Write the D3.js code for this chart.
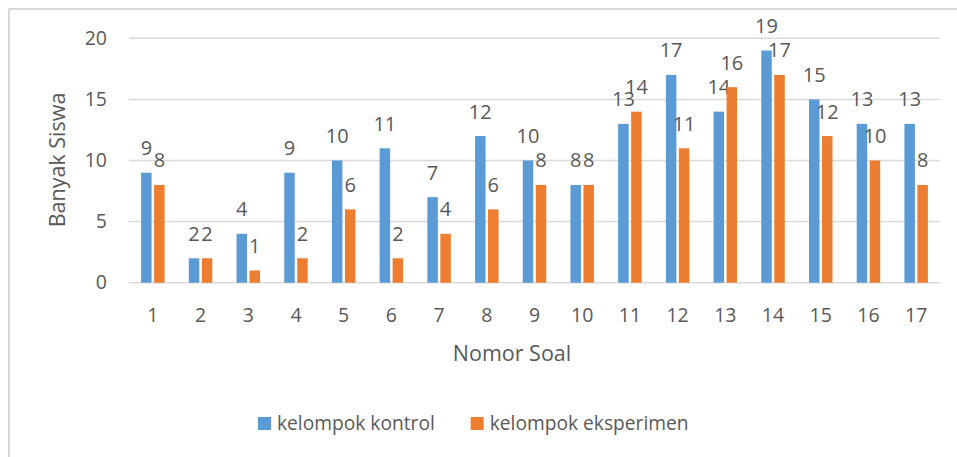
<!DOCTYPE html>
<html><head><meta charset="utf-8">
<script src="https://cdn.jsdelivr.net/npm/d3@7"></script>
<style>body{margin:0;background:#fff}svg{display:block}text{font-family:"Open Sans",sans-serif;fill:#595959}</style>
</head><body><svg id="c" width="957" height="457"></svg>
<script>
const categories = ["1","2","3","4","5","6","7","8","9","10","11","12","13","14","15","16","17"];
const kontrol = [9,2,4,9,10,11,7,12,10,8,13,17,14,19,15,13,13];
const eksperimen = [8,2,1,2,6,2,4,6,8,8,14,11,16,17,12,10,8];
const seriesNames = ["kelompok kontrol","kelompok eksperimen"];
const colors = ["#5B9BD5","#ED7D31"];
const yTicks = [0,5,10,15,20];

(function(){
const svg = d3.select("#c");
const F = "Open Sans";
// outer border
svg.append("line").attr("x1",9).attr("x2",9).attr("y1",8).attr("y2",457).attr("stroke","#D9D9D9").attr("stroke-width",2);
svg.append("line").attr("x1",8).attr("x2",957).attr("y1",9).attr("y2",9).attr("stroke","#D9D9D9").attr("stroke-width",2);

const pL=129, pR=940, pT=38.3, pB=282.7;
const x = d3.scaleBand().domain(categories).range([pL,pR]).padding(0);
const y = d3.scaleLinear().domain([0,20]).range([pB,pT]);
const bw = 10.5, gap = 2.5;

// gridlines
svg.append("g").selectAll("line").data(yTicks).join("line")
  .attr("x1",pL).attr("x2",pR).attr("y1",d=>y(d)).attr("y2",d=>y(d))
  .attr("stroke","#D9D9D9").attr("stroke-width",1.5);

// y axis labels
const ya = svg.append("g").attr("transform",`translate(${pL},0)`)
  .call(d3.axisLeft(y).tickValues(yTicks).tickSize(0).tickPadding(22));
ya.select(".domain").remove();
ya.selectAll("text").attr("font-size",19.5).attr("font-family",F).attr("fill","#595959");

// x axis labels
const xa = svg.append("g").attr("transform",`translate(0,${pB})`)
  .call(d3.axisBottom(x).tickSize(0).tickPadding(25.5));
xa.select(".domain").remove();
xa.selectAll("text").attr("font-size",19.5).attr("font-family",F).attr("fill","#595959");

const series = [kontrol, eksperimen];
series.forEach((vals,si)=>{
  const off = si===0 ? -(bw+gap/2) : gap/2;
  const g = svg.append("g");
  g.selectAll("rect").data(vals).join("rect")
    .attr("x",(d,i)=>x(categories[i])+x.bandwidth()/2+off)
    .attr("width",bw)
    .attr("y",d=>y(d)).attr("height",d=>y(0)-y(d))
    .attr("fill",colors[si]);
  g.selectAll("text").data(vals).join("text")
    .attr("x",(d,i)=>x(categories[i])+x.bandwidth()/2+off+bw/2)
    .attr("y",d=>y(d)-17.5)
    .attr("text-anchor","middle").attr("font-size",20)
    .text(d=>d);
});

// axis titles
svg.append("text").attr("transform","translate(65,160) rotate(-90)")
  .attr("text-anchor","middle").attr("font-size",21.5).text("Banyak Siswa");
svg.append("text").attr("x",512).attr("y",361)
  .attr("text-anchor","middle").attr("font-size",21.5).text("Nomor Soal");

// legend
const legX = [258, 470.7];
seriesNames.forEach((n,i)=>{
  svg.append("rect").attr("x",legX[i]).attr("y",417).attr("width",13).attr("height",13).attr("fill",colors[i]);
  svg.append("text").attr("x",legX[i]+19).attr("y",430).attr("font-size",19.2).text(n);
});
})();
</script></body></html>
